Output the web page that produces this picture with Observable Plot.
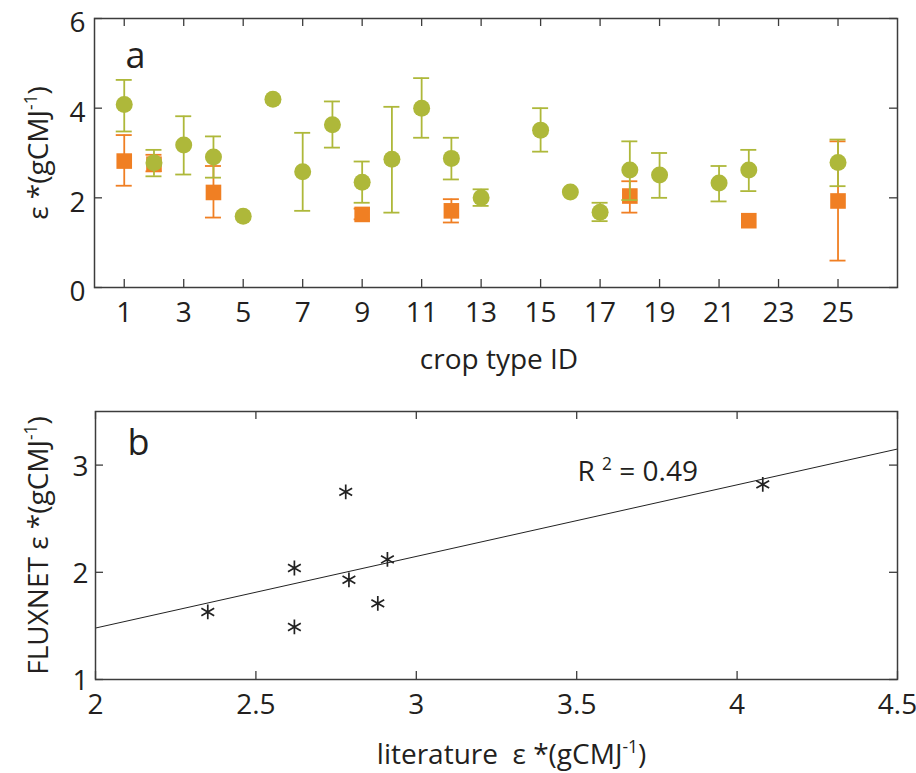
<!DOCTYPE html>
<html><head><meta charset="utf-8">
<script src="https://cdn.jsdelivr.net/npm/d3@7"></script>
<script src="https://cdn.jsdelivr.net/npm/@observablehq/plot@0.6"></script>
<style>
body{margin:0;background:#fff;}
#chart{width:916px;height:773px;position:relative;background:#fff;}
#chart svg{display:block;}
#chart text{white-space:pre;}
</style>
</head><body><div id="chart"></div>
<script>
// ---- Panel a data: literature (green) and FLUXNET (orange) per crop type ----
const cropIds  = [1,2,3,4,5,6,7,8,9,10,11,12,13,15,16,17,18,19,21,22,25];
const litMean  = [4.08,2.78,3.18,2.91,1.59,4.20,2.58,3.63,2.35,2.86,4.00,2.88,2.00,3.51,2.13,1.68,2.62,2.51,2.33,2.62,2.79];
const litLow   = [3.48,2.48,2.52,2.45,null,null,1.71,3.12,1.89,1.67,3.34,2.41,1.82,3.03,null,1.48,1.95,2.00,1.92,2.15,2.26];
const litHigh  = [4.63,3.07,3.82,3.37,null,null,3.45,4.15,2.81,4.03,4.67,3.34,2.19,4.00,null,1.89,3.26,3.00,2.71,3.07,3.30];
const fluxIds  = [1,2,4,9,12,18,22,25];
const fluxMean = [2.82,2.75,2.12,1.63,1.71,2.04,1.49,1.93];
const fluxLow  = [2.27,2.59,1.56,1.52,1.45,1.67,null,0.60];
const fluxHigh = [3.40,2.96,2.71,1.76,1.97,2.37,null,3.26];
// tick values
const xTicksA = [1,3,5,7,9,11,13,15,17,19,21,23,25];
const yTicksA = [0,2,4,6];
const xTicksB = [2,2.5,3,3.5,4,4.5];
const yTicksB = [1,2,3];
// ---- Panel b: regression line end points ----
const fitX = [2, 4.5];
const fitY = [1.48, 3.15];
const r2Label = "R ^2 = 0.49";

const green = "#aeb83a", orange = "#f07f23", ink = "#231f20", axisC = "#3c3c3c";
const FS = 28;

function rows(ids, mean, low, high){ return ids.map((id,i)=>({id, mean:mean[i], low:low[i], high:high[i]})); }
const litRows = rows(cropIds, litMean, litLow, litHigh);
const fluxRows = rows(fluxIds, fluxMean, fluxLow, fluxHigh);
const litErr = litRows.filter(d=>d.low!=null);
const fluxErr = fluxRows.filter(d=>d.low!=null);
const pairs = fluxIds.map((id,i)=>({lit: litMean[cropIds.indexOf(id)], flux: fluxMean[i]}));
const fitRows = fitX.map((x,i)=>({x, y: fitY[i]}));

const W = 916, tickLen = 8;
function inward(xt, yt, innerW, innerH){
  const o = {stroke: axisC, strokeWidth: 1.3};
  return [
    Plot.ruleX(xt, {x: d=>d, insetTop: innerH - tickLen, ...o}),
    Plot.ruleX(xt, {x: d=>d, insetBottom: innerH - tickLen, ...o}),
    Plot.ruleY(yt, {y: d=>d, insetRight: innerW - tickLen, ...o}),
    Plot.ruleY(yt, {y: d=>d, insetLeft: innerW - tickLen, ...o})
  ];
}
function errMarks(data, color){
  const o = {stroke: color, strokeWidth: 1.8};
  return [
    Plot.ruleX(data, {x: "id", y1: "low", y2: "high", ...o}),
    Plot.ruleY(data, {y: "low", x1: "id", x2: "id", insetLeft: -8, insetRight: -8, ...o}),
    Plot.ruleY(data, {y: "high", x1: "id", x2: "id", insetLeft: -8, insetRight: -8, ...o})
  ];
}
function supify(svg, fs){
  const ns = "http://www.w3.org/2000/svg";
  svg.querySelectorAll("text").forEach(t=>{
    const s = t.textContent;
    if(!s.includes("^")) return;
    const parts = s.split(/\^(-?\d+)/);
    while(t.firstChild) t.removeChild(t.firstChild);
    let shifted = false;
    parts.forEach((p,i)=>{
      if(p === "") return;
      const ts = document.createElementNS(ns, "tspan");
      if(i % 2 === 1){ ts.setAttribute("font-size", fs*0.62); ts.setAttribute("dy", -fs*0.42); shifted = true; }
      else if(shifted){ ts.setAttribute("dy", fs*0.42); shifted = false; }
      ts.textContent = p;
      t.appendChild(ts);
    });
  });
}

// ---- Panel a ----
const hA = 390, mA = {top:18, right:19, bottom:103, left:94};
const iwA = W - mA.left - mA.right, ihA = hA - mA.top - mA.bottom;
const plotA = Plot.plot({
  width: W, height: hA,
  marginTop: mA.top, marginRight: mA.right, marginBottom: mA.bottom, marginLeft: mA.left,
  style: {fontFamily: "'Open Sans', sans-serif", color: ink, background: "white", overflow: "visible"},
  x: {domain: [0, 27]},
  y: {domain: [0, 6]},
  marks: [
    ...errMarks(fluxErr, orange),
    Plot.dot(fluxRows, {x: "id", y: "mean", symbol: "square", r: 8.8, fill: orange}),
    ...errMarks(litErr, green),
    Plot.dot(litRows, {x: "id", y: "mean", r: 8.5, fill: green}),
    Plot.frame({stroke: axisC, strokeWidth: 1.5}),
    ...inward(xTicksA, yTicksA, iwA, ihA),
    Plot.axisX({ticks: xTicksA, tickSize: 0, tickPadding: 15, fontSize: FS, label: null, tickFormat: d=>String(d)}),
    Plot.axisY({ticks: yTicksA, tickSize: 0, tickPadding: 9, dy: 5, fontSize: FS, label: null, tickFormat: d=>String(d)}),
    Plot.text(["a"], {frameAnchor: "top-left", textAnchor: "start", lineAnchor: "top", dx: 31, dy: 24, fontSize: 36, fill: ink}),
    Plot.text(["crop type ID"], {frameAnchor: "bottom", lineAnchor: "middle", dx: 3, dy: 73, fontSize: FS, fill: ink}),
    Plot.text(["ε *(gCMJ^-1)"], {frameAnchor: "left", textAnchor: "middle", rotate: -90, dx: -55, fontSize: FS, fill: ink})
  ]
});
supify(plotA, FS);

// ---- Panel b ----
const hB = 383, mB = {top:21, right:19, bottom:94, left:95};
const iwB = W - mB.left - mB.right, ihB = hB - mB.top - mB.bottom;
const plotB = Plot.plot({
  width: W, height: hB,
  marginTop: mB.top, marginRight: mB.right, marginBottom: mB.bottom, marginLeft: mB.left,
  style: {fontFamily: "'Open Sans', sans-serif", color: ink, background: "white", overflow: "visible"},
  x: {domain: [2, 4.5]},
  y: {domain: [1, 3.5]},
  marks: [
    Plot.line(fitRows, {x: "x", y: "y", stroke: "#222", strokeWidth: 1}),
    Plot.dot(pairs, {x: "lit", y: "flux", symbol: "asterisk", r: 7, stroke: "#222", strokeWidth: 1.7}),
    Plot.frame({stroke: axisC, strokeWidth: 1.5}),
    ...inward(xTicksB, yTicksB, iwB, ihB),
    Plot.axisX({ticks: xTicksB, tickSize: 0, tickPadding: 15, fontSize: FS, label: null, tickFormat: d=>String(d)}),
    Plot.axisY({ticks: yTicksB, tickSize: 0, tickPadding: 7, dy: 2, fontSize: FS, label: null, tickFormat: d=>String(d)}),
    Plot.text(["b"], {frameAnchor: "top-left", textAnchor: "start", lineAnchor: "top", dx: 32, dy: 18, fontSize: 36, fill: ink}),
    Plot.text([r2Label], {frameAnchor: "top-left", textAnchor: "start", lineAnchor: "top", dx: 482, dy: 50, fontSize: FS, fill: ink}),
    Plot.text(["literature  ε *(gCMJ^-1)"], {frameAnchor: "bottom", lineAnchor: "middle", dx: 15, dy: 76, fontSize: FS, fill: ink}),
    Plot.text(["FLUXNET ε *(gCMJ^-1)"], {frameAnchor: "left", textAnchor: "middle", rotate: -90, dx: -56, fontSize: FS, fill: ink})
  ]
});
supify(plotB, FS);

const chart = document.getElementById("chart");
chart.appendChild(plotA);
chart.appendChild(plotB);
</script>
</body></html>
